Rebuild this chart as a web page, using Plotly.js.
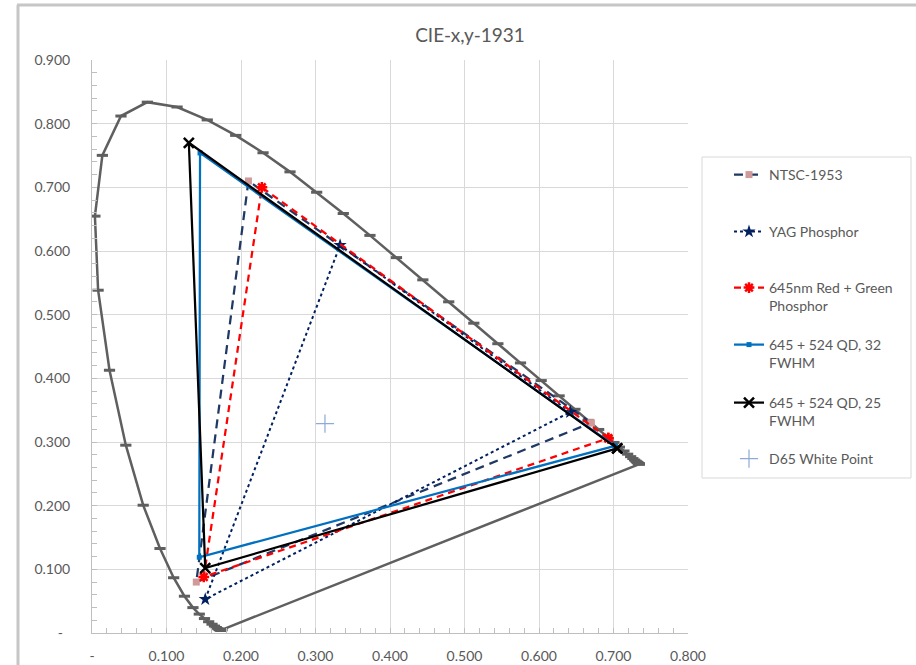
<!DOCTYPE html>
<html><head><meta charset="utf-8">
<script src="https://cdn.plot.ly/plotly-3.0.1.min.js"></script>
<style>body{margin:0;background:#fff}#chart{width:916px;height:665px}</style>
</head><body><div id="chart"></div>
<script>
// CIE 1931 spectral locus, 380-700 nm at 5 nm, closed by the purple line
const locusX = [0.1741,0.1740,0.1738,0.1736,0.1733,0.1730,0.1726,0.1721,0.1714,0.1703,0.1689,0.1669,0.1644,0.1611,0.1566,0.1510,0.1440,0.1355,0.1241,0.1096,0.0913,0.0687,0.0454,0.0235,0.0082,0.0039,0.0139,0.0389,0.0743,0.1142,0.1547,0.1929,0.2296,0.2658,0.3016,0.3373,0.3731,0.4087,0.4441,0.4788,0.5125,0.5448,0.5752,0.6029,0.6270,0.6482,0.6658,0.6801,0.6915,0.7006,0.7079,0.7140,0.7190,0.7230,0.7260,0.7283,0.7300,0.7311,0.7320,0.7327,0.7334,0.7340,0.7344,0.7346,0.7347,0.1741];
const locusY = [0.0050,0.0050,0.0049,0.0049,0.0048,0.0048,0.0048,0.0048,0.0051,0.0058,0.0069,0.0086,0.0109,0.0138,0.0177,0.0227,0.0297,0.0399,0.0578,0.0868,0.1327,0.2007,0.2950,0.4127,0.5384,0.6548,0.7502,0.8120,0.8338,0.8262,0.8059,0.7816,0.7543,0.7243,0.6923,0.6589,0.6245,0.5896,0.5547,0.5202,0.4866,0.4544,0.4242,0.3965,0.3725,0.3514,0.3340,0.3197,0.3083,0.2993,0.2920,0.2859,0.2809,0.2770,0.2740,0.2717,0.2700,0.2689,0.2680,0.2673,0.2666,0.2660,0.2656,0.2654,0.2653,0.0050];

const seriesNames = ["NTSC-1953","YAG Phosphor","645nm Red + Green<br>Phosphor","645 + 524 QD, 32<br>FWHM","645 + 524 QD, 25<br>FWHM","D65 White Point"];

const ntscX = [0.670,0.210,0.140,0.670];
const ntscY = [0.330,0.710,0.080,0.330];
const yagX = [0.642,0.333,0.152,0.642];
const yagY = [0.347,0.609,0.053,0.347];
const redGreenX = [0.693,0.228,0.150,0.693];
const redGreenY = [0.306,0.700,0.088,0.306];
const qd32X = [0.702,0.145,0.144,0.702];
const qd32Y = [0.294,0.754,0.119,0.294];
const qd25X = [0.705,0.130,0.152,0.705];
const qd25Y = [0.290,0.770,0.102,0.290];
const d65X = [0.3127];
const d65Y = [0.3290];

const xTickVals = [0,0.1,0.2,0.3,0.4,0.5,0.6,0.7,0.8];
const xTickText = ["-","0.100","0.200","0.300","0.400","0.500","0.600","0.700","0.800"];
const yTickVals = [0,0.1,0.2,0.3,0.4,0.5,0.6,0.7,0.8,0.9];
const yTickText = ["-\u00a0\u00a0","0.100","0.200","0.300","0.400","0.500","0.600","0.700","0.800","0.900"];

const FONT = "Lato, 'Open Sans', sans-serif";
const GREY = "#595959";

const traces = [
  {x: locusX, y: locusY, mode: "lines+markers", showlegend: false, hoverinfo: "skip",
   line: {color: "#5f5f5f", width: 2.5},
   marker: {symbol: "line-ew", size: 8, color: "#5f5f5f", line: {color: "#5f5f5f", width: 3}}},
  {x: ntscX, y: ntscY, name: seriesNames[0], legend: "legend", mode: "lines+markers",
   line: {color: "#1f3864", width: 2.25, dash: "9px,6px"},
   marker: {symbol: "square", size: 7, color: "#d09a9a"}},
  {x: yagX, y: yagY, name: seriesNames[1], legend: "legend2", mode: "lines+markers",
   line: {color: "#002060", width: 2, dash: "dot"},
   marker: {symbol: "star", size: 10, color: "#002060"}},
  {x: redGreenX, y: redGreenY, name: seriesNames[2], legend: "legend3", mode: "lines+markers",
   line: {color: "#ff0000", width: 2.25, dash: "7px,5px"},
   marker: {symbol: "asterisk-open", size: 9, color: "#ff0000", line: {color: "#ff0000", width: 2.5}}},
  {x: qd32X, y: qd32Y, name: seriesNames[3], legend: "legend4", mode: "lines+markers",
   line: {color: "#0070c0", width: 2.25},
   marker: {symbol: "square", size: 5, color: "#0070c0"}},
  {x: qd25X, y: qd25Y, name: seriesNames[4], legend: "legend5", mode: "lines+markers",
   line: {color: "#000000", width: 2.25},
   marker: {symbol: "x-thin-open", size: 10, color: "#000000", line: {color: "#000000", width: 2.5}}},
  {x: d65X, y: d65Y, name: seriesNames[5], legend: "legend6", mode: "markers",
   marker: {symbol: "cross-thin-open", size: 13, color: "#8eaadb", line: {color: "#8eaadb", width: 1.2}}}
];

const L = 92, R = 688, T = 60, B = 633;
const px2x = p => (p - L) / (R - L);
const py2y = p => (B - p) / (B - T);

function leg(py) {
  return {x: px2x(729), xanchor: "left", y: py2y(py), yanchor: "top",
          bgcolor: "rgba(0,0,0,0)", borderwidth: 0, valign: "top",
          font: {family: FONT, size: 14, color: GREY}};
}
const legendTops = [159, 216, 272, 329, 387, 443];

const layout = {
  width: 916, height: 665,
  margin: {l: L, r: 916 - R, t: T, b: 665 - B, pad: 0},
  paper_bgcolor: "#ffffff", plot_bgcolor: "#ffffff",
  font: {family: FONT, color: GREY},
  title: {text: "CIE-x,y-1931", font: {family: FONT, size: 19, color: GREY},
          x: px2x(470), xref: "paper", xanchor: "center", y: 1 - 35/665, yanchor: "middle"},
  xaxis: {range: [0, 0.8], tickvals: xTickVals, ticktext: xTickText,
          showgrid: true, gridcolor: "#d9d9d9", gridwidth: 1,
          showline: true, linecolor: "#bfbfbf", linewidth: 1,
          ticks: "inside", ticklen: 5, tickcolor: "#bfbfbf",
          minor: {dtick: 0.02, ticks: "inside", ticklen: 5, tickcolor: "#bfbfbf", showgrid: false},
          tickfont: {family: FONT, size: 14, color: GREY}, ticklabelstandoff: 10,
          zeroline: false, fixedrange: true},
  yaxis: {range: [0, 0.9], tickvals: yTickVals, ticktext: yTickText,
          showgrid: true, gridcolor: "#d9d9d9", gridwidth: 1,
          showline: true, linecolor: "#bfbfbf", linewidth: 1,
          ticks: "inside", ticklen: 5, tickcolor: "#bfbfbf",
          minor: {dtick: 0.02, ticks: "inside", ticklen: 5, tickcolor: "#bfbfbf", showgrid: false},
          tickfont: {family: FONT, size: 14, color: GREY}, ticklabelstandoff: 18,
          zeroline: false, fixedrange: true},
  legend: leg(legendTops[0]),
  legend2: leg(legendTops[1]),
  legend3: leg(legendTops[2]),
  legend4: leg(legendTops[3]),
  legend5: leg(legendTops[4]),
  legend6: leg(legendTops[5]),
  shapes: [
    {type: "rect", xref: "paper", yref: "paper", x0: px2x(702), x1: px2x(911), y0: py2y(478), y1: py2y(157),
     line: {color: "#d9d9d9", width: 1}},
    {type: "line", xref: "paper", yref: "paper", x0: px2x(18), x1: px2x(18), y0: py2y(700), y1: py2y(5),
     line: {color: "#c6c6c6", width: 3}},
    {type: "line", xref: "paper", yref: "paper", x0: px2x(17), x1: px2x(950), y0: py2y(5), y1: py2y(5),
     line: {color: "#c6c6c6", width: 3}}
  ]
};

Plotly.newPlot("chart", traces, layout, {displayModeBar: false, staticPlot: true});
</script>
</body></html>
